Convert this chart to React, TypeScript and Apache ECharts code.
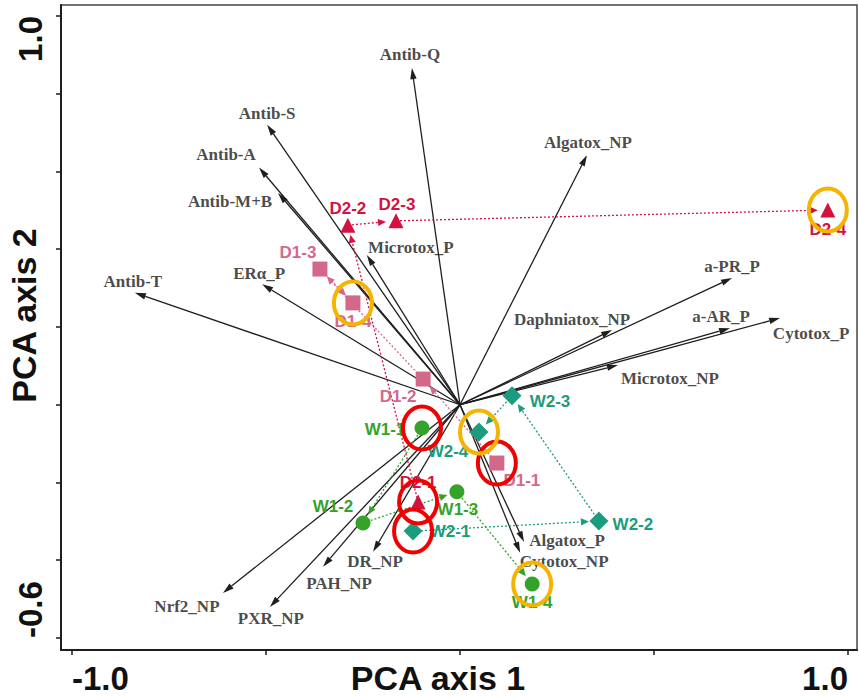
import React, { useEffect, useRef } from 'react';
import * as echarts from 'echarts';

// ---- Loadings (variables) ----
const loadingNames = [
  'Antib-Q', 'Antib-S', 'Antib-A', 'Antib-M+B', 'Microtox_P', 'ERα_P', 'Antib-T',
  'Algatox_NP', 'a-PR_P', 'Daphniatox_NP', 'a-AR_P', 'Cytotox_P', 'Microtox_NP',
  'Algatox_P', 'Cytotox_NP', 'DR_NP', 'PAH_NP', 'Nrf2_NP', 'PXR_NP',
];
const loadingX = [
  -0.124, -0.497, -0.518, -0.469, -0.240, -0.510, -0.838,
  0.327, 0.701, 0.392, 0.696, 0.825, 0.407,
  0.165, 0.155, -0.224, -0.353, -0.611, -0.490,
];
const loadingY = [
  0.866, 0.720, 0.610, 0.545, 0.385, 0.310, 0.288,
  0.642, 0.326, 0.192, 0.197, 0.223, 0.102,
  -0.353, -0.381, -0.378, -0.417, -0.484, -0.520,
];

// ---- Samples ----
const d1Names = ['D1-1', 'D1-2', 'D1-3', 'D1-4'];
const d1X = [0.095, -0.095, -0.361, -0.276];
const d1Y = [-0.150, 0.066, 0.349, 0.262];

const d2Names = ['D2-1', 'D2-2', 'D2-3', 'D2-4'];
const d2X = [-0.108, -0.289, -0.165, 0.948];
const d2Y = [-0.250, 0.462, 0.473, 0.501];

const w1Names = ['W1-1', 'W1-2', 'W1-3', 'W1-4'];
const w1X = [-0.098, -0.250, -0.008, 0.186];
const w1Y = [-0.060, -0.304, -0.224, -0.461];

const w2Names = ['W2-1', 'W2-2', 'W2-3', 'W2-4'];
const w2X = [-0.121, 0.358, 0.134, 0.049];
const w2Y = [-0.325, -0.299, 0.023, -0.070];

// highlighted samples
const redCircled = ['W1-1', 'D1-1', 'D2-1', 'W2-1'];
const orangeCircled = ['D1-4', 'W2-4', 'W1-4', 'D2-4'];

// axis ticks
const xTicks = [-1.0, -0.5, 0, 0.5, 1.0];
const xTickLabels = [-1.0, 1.0];
const yTicks = [-0.6, -0.4, -0.2, 0, 0.2, 0.4, 0.6, 0.8, 1.0];
const yTickLabels = [-0.6, 1.0];

// ---- layout (label offsets in px, from point to label centre) ----
const loadingLabelOffsets: Record<string, [number, number]> = {
  'Antib-Q': [-2, -14], 'Antib-S': [0, -11], 'Antib-A': [-33, -13], 'Antib-M+B': [-48, 9],
  'Microtox_P': [44, -8], 'ERα_P': [-3, -11], 'Antib-T': [-2, -11], 'Algatox_NP': [1, -13],
  'a-PR_P': [0, -12], 'Daphniatox_NP': [-40, -11], 'a-AR_P': [-9, -12], 'Cytotox_P': [31, 15],
  'Microtox_NP': [52, 13], 'Algatox_P': [43, -1], 'Cytotox_NP': [44, 9], 'DR_NP': [2, 10],
  'PAH_NP': [16, 17], 'Nrf2_NP': [-36, 14], 'PXR_NP': [1, 12],
};
const sampleLabelOffsets: Record<string, [number, number]> = {
  'D2-1': [0, -19], 'D2-2': [0, -17], 'D2-3': [1, -16], 'D2-4': [0, 20],
  'D1-1': [25, 17], 'D1-2': [-25, 17], 'D1-3': [-22, -17], 'D1-4': [0, 19],
  'W1-1': [-37, 1], 'W1-2': [-30, -16], 'W1-3': [1, 18], 'W1-4': [0, 19],
  'W2-1': [37, 0], 'W2-2': [34, 4], 'W2-3': [38, 6], 'W2-4': [-31, 20],
};

const RED = '#d3123f';
const PINK = '#d4688b';
const GREEN = '#35a32b';
const TEAL = '#1c9c7e';
const DARK = '#1e1e1e';

function arrowRender(color: string, width: number, dash: number[] | null, shorten: number, headLen: number, headW: number) {
  return (params: any, api: any) => {
    const a = api.coord([api.value(0), api.value(1)]);
    const b = api.coord([api.value(2), api.value(3)]);
    const dx = b[0] - a[0];
    const dy = b[1] - a[1];
    const len = Math.hypot(dx, dy) || 1;
    const ux = dx / len;
    const uy = dy / len;
    const tip = [b[0] - ux * shorten, b[1] - uy * shorten];
    const base = [tip[0] - ux * headLen, tip[1] - uy * headLen];
    const px = -uy;
    const py = ux;
    return {
      type: 'group',
      children: [
        {
          type: 'line',
          shape: { x1: a[0], y1: a[1], x2: base[0], y2: base[1] },
          style: { stroke: color, lineWidth: width, lineDash: dash || undefined, fill: null },
        },
        {
          type: 'polygon',
          shape: {
            points: [
              tip,
              [base[0] + px * headW, base[1] + py * headW],
              [base[0] - px * headW, base[1] - py * headW],
            ],
          },
          style: { fill: color, stroke: null },
        },
      ],
    };
  };
}

function pathData(xs: number[], ys: number[]) {
  const out: number[][] = [];
  for (let i = 0; i < xs.length - 1; i++) out.push([xs[i], ys[i], xs[i + 1], ys[i + 1]]);
  return out;
}

function sampleSeries(names: string[], xs: number[], ys: number[], color: string, symbol: string, size: number) {
  return {
    type: 'scatter',
    z: 5,
    symbol,
    symbolSize: size,
    itemStyle: { color, opacity: 1 },
    data: names.map((n, i) => ({
      name: n,
      value: [xs[i], ys[i]],
      label: {
        show: true,
        formatter: n,
        position: 'inside',
        align: 'center',
        verticalAlign: 'middle',
        offset: sampleLabelOffsets[n],
        color,
        fontFamily: 'Liberation Sans, Arial, sans-serif',
        fontWeight: 'bold',
        fontSize: 17,
      },
    })),
  };
}

function trajSeries(xs: number[], ys: number[], color: string) {
  return {
    type: 'custom',
    z: 3,
    renderItem: arrowRender(color, 1.3, [2, 2], 10, 8, 3.6),
    encode: { x: [0, 2], y: [1, 3] },
    data: pathData(xs, ys),
  };
}

export default function App() {
  const ref = useRef<HTMLDivElement>(null);
  useEffect(() => {
    const chart = echarts.init(ref.current!, null, { renderer: 'svg' });

    const allNames = [...d1Names, ...d2Names, ...w1Names, ...w2Names];
    const allX = [...d1X, ...d2X, ...w1X, ...w2X];
    const allY = [...d1Y, ...d2Y, ...w1Y, ...w2Y];
    const circleData = (list: string[]) =>
      list.map((n) => {
        const i = allNames.indexOf(n);
        return [allX[i], allY[i]];
      });
    const ellipseRender = (color: string) => (params: any, api: any) => {
      const c = api.coord([api.value(0), api.value(1)]);
      return {
        type: 'ellipse',
        shape: { cx: c[0], cy: c[1], rx: 19, ry: 21.5 },
        style: { fill: null, stroke: color, lineWidth: 4 },
      };
    };

    const option: any = {
      animation: false,
      backgroundColor: '#ffffff',
      grid: {
        left: 61, right: 2, top: 5, bottom: 47,
        containLabel: false,
        outerBoundsMode: 'none',
        show: true, borderColor: '#444', borderWidth: 1.5, backgroundColor: 'transparent',
      },
      xAxis: {
        type: 'value',
        min: -1.0284,
        max: 1.0232,
        splitLine: { show: false },
        axisLine: { onZero: false, lineStyle: { color: DARK, width: 2 } },
        axisTick: { customValues: xTicks, length: 5, lineStyle: { color: DARK, width: 1.5 } },
        axisLabel: {
          customValues: xTickLabels,
          formatter: (v: number) => v.toFixed(1),
          fontSize: 33, fontWeight: 'bold', color: '#111',
          fontFamily: 'Liberation Sans, Arial, sans-serif',
          margin: 12,
          alignMinLabel: 'left', alignMaxLabel: 'right',
        },
        name: 'PCA axis 1',
        nameLocation: 'middle',
        nameGap: 12,
        nameMoveOverlap: false,
        nameTextStyle: {
          fontSize: 34, fontWeight: 'bold', color: '#111',
          fontFamily: 'Liberation Sans, Arial, sans-serif',
          verticalAlign: 'top',
          lineHeight: 32,
          padding: [0, 42, 0, 0],
        },
      },
      yAxis: {
        type: 'value',
        min: -0.6309,
        max: 1.0283,
        splitLine: { show: false },
        axisLine: { onZero: false, lineStyle: { color: DARK, width: 2 } },
        axisTick: { customValues: yTicks, length: 5, lineStyle: { color: DARK, width: 1.5 } },
        axisLabel: {
          customValues: yTickLabels,
          formatter: (v: number) => v.toFixed(1),
          rotate: 90,
          fontSize: 33, fontWeight: 'bold', color: '#111',
          fontFamily: 'Liberation Sans, Arial, sans-serif',
          margin: 14,
          alignMinLabel: 'left', alignMaxLabel: 'right',
        },
        name: 'PCA axis 2',
        nameLocation: 'middle',
        nameRotate: 90,
        nameGap: 20,
        nameMoveOverlap: false,
        nameTextStyle: {
          fontSize: 34, fontWeight: 'bold', color: '#111',
          fontFamily: 'Liberation Sans, Arial, sans-serif',
          padding: [0, 0, 0, 24],
        },
      },
      series: [
        {
          type: 'custom',
          z: 2,
          renderItem: arrowRender(DARK, 1.3, null, 0, 11, 3.2),
          encode: { x: [0, 2], y: [1, 3] },
          data: loadingNames.map((n, i) => [0, 0, loadingX[i], loadingY[i]]),
        },
        {
          type: 'scatter',
          z: 4,
          symbolSize: 0,
          silent: true,
          data: loadingNames.map((n, i) => ({
            name: n,
            value: [loadingX[i], loadingY[i]],
            label: {
              show: true,
              formatter: n,
              position: 'inside',
              align: 'center',
              verticalAlign: 'middle',
              offset: loadingLabelOffsets[n],
              color: '#1a1a1a',
              fontFamily: 'Liberation Serif, Times New Roman, serif',
              fontWeight: 'bold',
              fontSize: 17,
            },
          })),
        },
        trajSeries(d1X, d1Y, PINK),
        trajSeries(d2X, d2Y, RED),
        trajSeries(w1X, w1Y, GREEN),
        trajSeries(w2X, w2Y, TEAL),
        sampleSeries(d1Names, d1X, d1Y, PINK, 'rect', 15),
        sampleSeries(d2Names, d2X, d2Y, RED, 'triangle', 15),
        sampleSeries(w1Names, w1X, w1Y, GREEN, 'circle', 15),
        sampleSeries(w2Names, w2X, w2Y, TEAL, 'diamond', 19),
        {
          type: 'custom',
          z: 10,
          renderItem: ellipseRender('#f00000'),
          encode: { x: 0, y: 1 },
          data: circleData(redCircled),
        },
        {
          type: 'custom',
          z: 10,
          renderItem: ellipseRender('#f5b400'),
          encode: { x: 0, y: 1 },
          data: circleData(orangeCircled),
        },
      ],
    };
    chart.setOption(option);
    return () => chart.dispose();
  }, []);
  return <div ref={ref} style={{ position: 'fixed', left: 0, top: 0, width: 859, height: 697 }} />;
}
